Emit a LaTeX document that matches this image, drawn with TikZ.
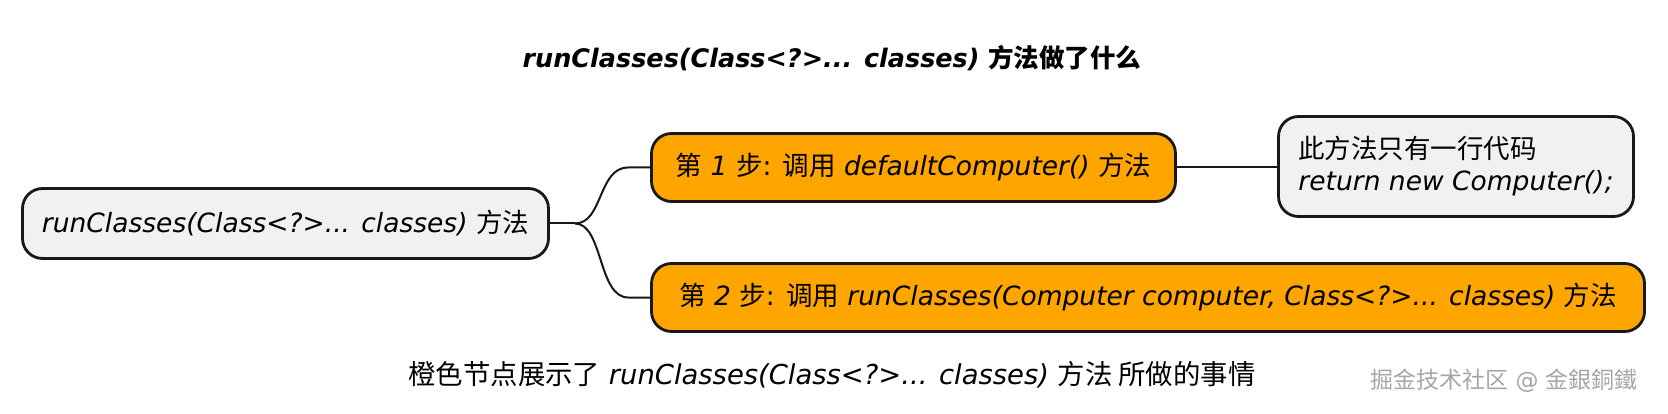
\documentclass[tikz,border=0pt]{standalone}
\usepackage{fontspec}
\setmainfont{DejaVu Sans}
\newfontfamily\cjk{Noto Sans CJK SC}
\definecolor{nodeorange}{HTML}{FFA500}
\definecolor{nodegray}{HTML}{F1F1F1}
\definecolor{edgecol}{HTML}{181818}
\tikzset{
  box/.style={draw=edgecol, line width=2.8pt, rounded corners=20pt, inner sep=0pt,
    font=\fontsize{26.5}{32}\selectfont, text=black},
  graybox/.style={box, fill=nodegray},
  orangebox/.style={box, fill=nodeorange},
  conn/.style={draw=edgecol, line width=2pt},
  plain/.style={inner sep=0pt, font=\fontsize{26.5}{32}\selectfont}
}
\begin{document}
\begin{tikzpicture}[x=1pt,y=-1pt]
\useasboundingbox (0,0) rectangle (1668,414);
\node[plain, font=\fontsize{25.5}{31}\selectfont\bfseries] (title) at (832,58)
  {\itshape runClasses(Class<?>... classes)\upshape{} {\cjk\bfseries 方法做了什么}};
\node[graybox, minimum width=526pt, minimum height=70pt] (root) at (285.5,223.5)
  {\itshape runClasses(Class<?>... classes)\upshape{} {\cjk 方法}};
\node[orangebox, minimum width=524pt, minimum height=68pt] (s1) at (913.5,167.5)
  {{\cjk 第} \textit{1} {\cjk 步}: {\cjk 调用} \textit{defaultComputer()} {\cjk 方法}};
\node[graybox, minimum width=355pt, minimum height=100pt, align=left] (r) at (1456,166.5)
  {{\cjk 此方法只有一行代码}\\\textit{return new Computer();}};
\node[orangebox, minimum width=993pt, minimum height=68pt] (s2) at (1148,297.5)
  {{\cjk 第} \textit{2} {\cjk 步}: {\cjk 调用} \textit{runClasses(Computer computer, Class<?>... classes)} {\cjk 方法}};
\node[plain, font=\fontsize{27.4}{33}\selectfont] (caption) at (832,375)
  {{\cjk 橙色节点展示了} \textit{runClasses(Class<?>... classes)} {\cjk 方法 所做的事情}};
\node[plain, anchor=east, text=gray!70, font=\fontsize{23}{27}\selectfont] (wm) at (1638,381)
  {{\cjk 掘金技术社区} @ {\cjk 金銀銅鐵}};
\coordinate (j) at (575,223.5);
\draw[conn] (root.east) -- (j);
\draw[conn] (j) .. controls +(28,0) and +(-30,0) .. ([xshift=-22pt]s1.west) -- (s1.west);
\draw[conn] (j) .. controls +(28,0) and +(-30,0) .. ([xshift=-22pt]s2.west) -- (s2.west);
\draw[conn] (s1.east) -- (s1.east -| r.west);
\end{tikzpicture}
\end{document}
